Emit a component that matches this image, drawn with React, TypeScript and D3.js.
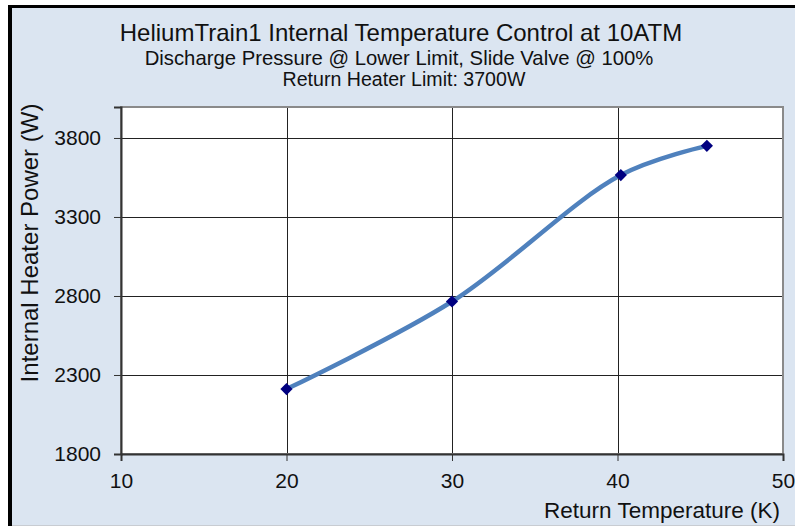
import React, { useEffect, useRef } from 'react';
import * as d3 from 'd3';

const returnTemps = [20, 30, 40.2, 45.4];
const heaterPower = [2211, 2765, 3565, 3750];
const xTicks = [10, 20, 30, 40, 50];
const yTicks = [1800, 2300, 2800, 3300, 3800];
const titleLines = [
  'HeliumTrain1 Internal Temperature Control at 10ATM',
  'Discharge Pressure @ Lower Limit, Slide Valve @ 100%',
  'Return Heater Limit: 3700W',
];

const FONT = '"Liberation Sans", Arial, sans-serif';

const App: React.FC = () => {
  const svgRef = useRef<SVGSVGElement | null>(null);

  useEffect(() => {
    const width = 795;
    const height = 526;
    const plot = { left: 121, right: 783, top: 107, bottom: 454 };

    const svg = d3.select(svgRef.current);
    svg.selectAll('*').remove();

    // background + outer frame
    svg.append('rect').attr('width', width).attr('height', height).attr('fill', '#ffffff');
    svg.append('rect').attr('x', 8).attr('y', 5).attr('width', width - 8).attr('height', height - 5).attr('fill', '#dbe5f1');
    svg.append('rect').attr('x', 8).attr('y', 5).attr('width', 4).attr('height', height - 5).attr('fill', '#000');
    svg.append('rect').attr('x', 8).attr('y', 5).attr('width', width - 8).attr('height', 3).attr('fill', '#000');
    svg.append('line').attr('x1', 12).attr('x2', width).attr('y1', 525.5).attr('y2', 525.5).attr('stroke', '#c8ccd2');

    const xScale = d3.scaleLinear().domain([10, 50]).range([plot.left, plot.right]);
    const yScale = d3.scaleLinear().domain([1800, 3996]).range([plot.bottom, plot.top]);

    svg.append('rect')
      .attr('x', plot.left).attr('y', plot.top)
      .attr('width', plot.right - plot.left).attr('height', plot.bottom - plot.top)
      .attr('fill', '#fff');

    // gridlines
    const grid = svg.append('g').attr('stroke', '#222').attr('stroke-width', 1).attr('shape-rendering', 'crispEdges');
    grid.selectAll('line.gx').data(xTicks.slice(1, -1)).enter().append('line')
      .attr('x1', (d) => Math.round(xScale(d)) + 0.5).attr('x2', (d) => Math.round(xScale(d)) + 0.5)
      .attr('y1', plot.top).attr('y2', plot.bottom);
    grid.selectAll('line.gy').data(yTicks.slice(1)).enter().append('line')
      .attr('x1', plot.left).attr('x2', plot.right)
      .attr('y1', (d) => Math.round(yScale(d)) + 0.5).attr('y2', (d) => Math.round(yScale(d)) + 0.5);

    // plot border
    svg.append('rect')
      .attr('x', plot.left).attr('y', plot.top)
      .attr('width', plot.right - plot.left).attr('height', plot.bottom - plot.top)
      .attr('fill', 'none').attr('stroke', '#8a8a8a').attr('stroke-width', 2);

    // axes
    const xAxis = d3.axisBottom(xScale).tickValues(xTicks).tickSize(7).tickPadding(12).tickFormat(d3.format('d'));
    const gx = svg.append('g').attr('transform', `translate(0, ${plot.bottom})`).call(xAxis);
    gx.select('.domain').attr('stroke', '#333').attr('stroke-width', 2);
    gx.selectAll('.tick line').attr('stroke', '#333');
    gx.selectAll('.tick text').attr('font-family', FONT).attr('font-size', 21).attr('fill', '#111');

    const yAxis = d3.axisLeft(yScale).tickValues(yTicks).tickSize(7).tickPadding(13).tickFormat(d3.format('d'));
    const gy = svg.append('g').attr('transform', `translate(${plot.left}, 0)`).call(yAxis);
    gy.select('.domain').attr('stroke', '#333').attr('stroke-width', 2);
    gy.selectAll('.tick line').attr('stroke', '#333');
    gy.selectAll('.tick text').attr('font-family', FONT).attr('font-size', 21).attr('fill', '#111');

    // series
    const points = returnTemps.map((t, i) => [t, heaterPower[i]] as [number, number]);
    const line = d3.line<[number, number]>()
      .x((d) => xScale(d[0]))
      .y((d) => yScale(d[1]))
      .curve(d3.curveCatmullRom.alpha(0.5));
    svg.append('path')
      .datum(points)
      .attr('d', line)
      .attr('fill', 'none')
      .attr('stroke', '#4f81bd')
      .attr('stroke-width', 4.5)
      .attr('stroke-linecap', 'round');

    svg.selectAll('path.marker').data(points).enter().append('path')
      .attr('class', 'marker')
      .attr('d', d3.symbol().type(d3.symbolDiamond2).size(95))
      .attr('transform', (d) => `translate(${xScale(d[0])}, ${yScale(d[1])})`)
      .attr('fill', '#000080');

    // titles
    const titleSizes = [24, 20.3, 19.6];
    const titleY = [41, 65, 86];
    const titleX = [401, 399, 404];
    titleLines.forEach((t, i) => {
      svg.append('text')
        .attr('x', titleX[i]).attr('y', titleY[i])
        .attr('text-anchor', 'middle')
        .attr('font-family', FONT).attr('font-size', titleSizes[i]).attr('fill', '#111')
        .text(t);
    });

    svg.append('text')
      .attr('x', 780).attr('y', 518)
      .attr('text-anchor', 'end')
      .attr('font-family', FONT).attr('font-size', 22.5).attr('fill', '#111')
      .text('Return Temperature (K)');

    svg.append('text')
      .attr('transform', 'translate(38, 243) rotate(-90)')
      .attr('text-anchor', 'middle')
      .attr('font-family', FONT).attr('font-size', 24).attr('fill', '#111')
      .text('Internal Heater Power (W)');
  }, []);

  return (
    <svg
      ref={svgRef}
      width={795}
      height={526}
      style={{ position: 'absolute', left: 0, top: 0, display: 'block' }}
    ></svg>
  );
};

export default App;
